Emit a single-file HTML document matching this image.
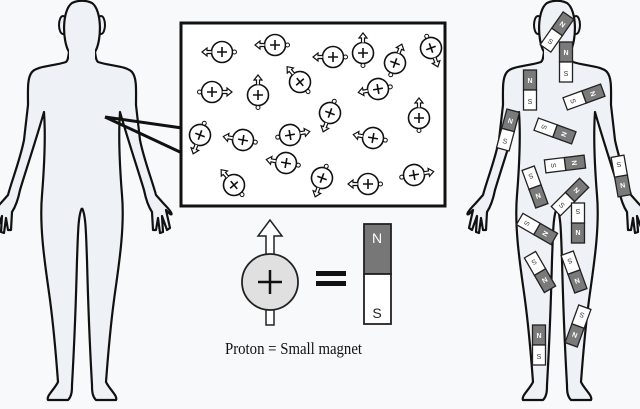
<!DOCTYPE html>
<html><head><style>html,body{margin:0;padding:0;background:#f7f9fb}svg{display:block}</style></head>
<body>
<svg width="640" height="409" viewBox="0 0 640 409" xmlns="http://www.w3.org/2000/svg">
<defs>
<g id="half">
<path d="M0,50 L13,52 C14,58 14,60 16,62 C28,66 45,66 50,72 C55,78 54,90 54,105 L58,140 C62,160 70,180 74,195 L82,204 C88,210 92,216 88,214 L84,210 L88,228 L85,230 L80,216 L81,232 L78,233 L76,218 L74,230 L71,230 L70,212 C66,206 64,200 62,190 C56,170 46,140 38,112 C36,140 38,170 40,195 C43,230 36,270 32,300 C28,330 26,355 24,382 C28,390 36,396 34,400 L14,400 C10,396 10,390 10,385 C8,350 6,300 5,260 C4,235 4,215 0,208 Z" fill="#eef1f5"/>
<path d="M0,208 C4,215 4,235 5,260 C6,300 8,350 10,385 C10,390 10,396 14,400 L34,400 C36,396 28,390 24,382 C26,355 28,330 32,300 C36,270 43,230 40,195 C38,170 36,140 38,112 C46,140 56,170 62,190 C64,200 66,206 70,212 L71,230 L74,230 L76,218 L78,233 L81,232 L80,216 L85,230 L88,228 L84,210 L88,214 C92,216 88,210 82,204 L74,195 C70,180 62,160 58,140 L54,105 C54,90 55,78 50,72 C45,66 28,66 16,62 C14,60 14,58 13,52" fill="none" stroke="#111" stroke-width="2.2" stroke-linejoin="round"/>
</g>
<g id="body">
<use href="#half"/>
<use href="#half" transform="scale(-1,1)"/>
<ellipse cx="-19" cy="25" rx="4" ry="9" fill="#eef1f5" stroke="#111" stroke-width="2"/>
<ellipse cx="19" cy="25" rx="4" ry="9" fill="#eef1f5" stroke="#111" stroke-width="2"/>
<path d="M-13,52 C-20,40 -20,10 -10,3 C-4,0 4,0 10,3 C20,10 20,40 13,52 C8,56 -8,56 -13,52 Z" fill="#eef1f5" stroke="#111" stroke-width="2.2"/>
<rect x="-13" y="48" width="26" height="10" fill="#eef1f5"/>
</g>
<g id="p">
<circle r="10.5" fill="#fff" stroke="#111" stroke-width="1.6"/>
<path d="M-5,0H5M0,-5V5" stroke="#111" stroke-width="1.6"/>
<path d="M-1.5,-10.5V-15H-4L0,-20L4,-15H1.5V-10.5" fill="#fff" stroke="#111" stroke-width="1.2"/>
<circle cy="12.5" r="2" fill="#fff" stroke="#111" stroke-width="1"/>
</g>
<g id="m">
<rect x="-6.5" y="-20" width="13" height="20" fill="#7a7a7a" stroke="#222" stroke-width="1.3"/>
<rect x="-6.5" y="0" width="13" height="20" fill="#fff" stroke="#222" stroke-width="1.3"/>
<text x="0" y="-7" font-family="Liberation Sans" font-size="7" fill="#fff" text-anchor="middle" font-weight="bold">N</text>
<text x="0" y="14" font-family="Liberation Sans" font-size="7" fill="#333" text-anchor="middle">S</text>
</g>
</defs>
<rect width="640" height="409" fill="#f7f9fb"/>
<use href="#body" transform="translate(82,0)"/>
<use href="#body" transform="translate(557,0)"/>
<rect x="181" y="23" width="264" height="183" fill="#fff" stroke="#111" stroke-width="3"/>
<path d="M105,117 L182,128 M105,117 L180,152" stroke="#111" stroke-width="3"/>
<use href="#p" transform="translate(222,52) rotate(-90)"/>
<use href="#p" transform="translate(275,45) rotate(-90)"/>
<use href="#p" transform="translate(333,57) rotate(-90)"/>
<use href="#p" transform="translate(363,53)"/>
<use href="#p" transform="translate(395,63) rotate(20)"/>
<use href="#p" transform="translate(431,48) rotate(160)"/>
<use href="#p" transform="translate(212,92) rotate(90)"/>
<use href="#p" transform="translate(258,95)"/>
<use href="#p" transform="translate(300,82) rotate(-40)"/>
<use href="#p" transform="translate(378,89) rotate(-100)"/>
<use href="#p" transform="translate(330,113) rotate(200)"/>
<use href="#p" transform="translate(419,118)"/>
<use href="#p" transform="translate(200,135) rotate(200)"/>
<use href="#p" transform="translate(243,140) rotate(-80)"/>
<use href="#p" transform="translate(290,135) rotate(80)"/>
<use href="#p" transform="translate(373,138) rotate(-80)"/>
<use href="#p" transform="translate(286,163) rotate(-80)"/>
<use href="#p" transform="translate(234,185) rotate(-40)"/>
<use href="#p" transform="translate(322,178) rotate(200)"/>
<use href="#p" transform="translate(368,184) rotate(-90)"/>
<use href="#p" transform="translate(414,175) rotate(80)"/>
<path d="M266,310V325H274V310 M266,254V236H258L270,220L282,236H274V254" fill="#fff" stroke="#222" stroke-width="1.5"/>
<circle cx="270" cy="282" r="28" fill="#e0e0e0" stroke="#222" stroke-width="1.8"/>
<path d="M258,282H282M270,270V294" stroke="#111" stroke-width="2.5"/>
<rect x="316" y="271" width="30" height="5" fill="#111"/>
<rect x="316" y="281" width="30" height="5" fill="#111"/>
<rect x="364" y="224" width="27" height="50" fill="#777" stroke="#222" stroke-width="1.8"/>
<rect x="364" y="274" width="27" height="50" fill="#fff" stroke="#222" stroke-width="1.8"/>
<text x="377" y="243" font-family="Liberation Sans" font-size="14" fill="#fff" text-anchor="middle">N</text>
<text x="377" y="318" font-family="Liberation Sans" font-size="14" fill="#222" text-anchor="middle">S</text>
<text x="225" y="354" font-family="Liberation Serif" font-size="17" fill="#111" textLength="137" lengthAdjust="spacingAndGlyphs">Proton = Small magnet</text>
<use href="#m" transform="translate(557,32) rotate(35)"/>
<use href="#m" transform="translate(566,62)"/>
<use href="#m" transform="translate(530,90)"/>
<use href="#m" transform="translate(584,97) rotate(70)"/>
<use href="#m" transform="translate(508,130) rotate(15)"/>
<use href="#m" transform="translate(555,131) rotate(110)"/>
<use href="#m" transform="translate(565,164) rotate(83)"/>
<use href="#m" transform="translate(621,176) rotate(170)"/>
<use href="#m" transform="translate(535,187) rotate(160)"/>
<use href="#m" transform="translate(570,197) rotate(45)"/>
<use href="#m" transform="translate(578,223) rotate(180)"/>
<use href="#m" transform="translate(537,229) rotate(120)"/>
<use href="#m" transform="translate(540,272) rotate(150)"/>
<use href="#m" transform="translate(574,272) rotate(160)"/>
<use href="#m" transform="translate(578,326) rotate(200)"/>
<use href="#m" transform="translate(539,345)"/>
</svg>
</body></html>
